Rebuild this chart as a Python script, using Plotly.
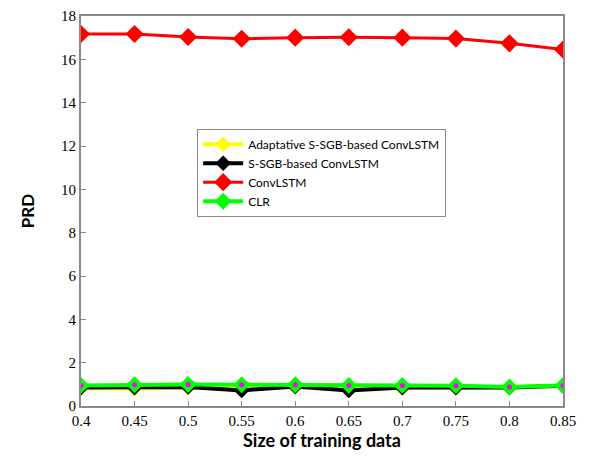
import plotly.graph_objects as go

sizes = [0.4, 0.45, 0.5, 0.55, 0.6, 0.65, 0.7, 0.75, 0.8, 0.85]
adaptive = [0.82, 0.80, 0.85, 0.78, 0.88, 0.78, 0.83, 0.83, 0.85, 0.93]
ssgb = [0.85, 0.85, 0.88, 0.72, 0.90, 0.72, 0.85, 0.85, 0.85, 0.93]
convlstm = [17.17, 17.17, 17.03, 16.95, 17.0, 17.02, 17.0, 16.96, 16.74, 16.45]
clr = [0.95, 0.98, 0.99, 0.98, 0.98, 0.95, 0.95, 0.94, 0.88, 0.95]

x_ticks = [0.4, 0.45, 0.5, 0.55, 0.6, 0.65, 0.7, 0.75, 0.8, 0.85]
x_tick_text = ["0.4", "0.45", "0.5", "0.55", "0.6", "0.65", "0.7", "0.75", "0.8", "0.85"]
y_ticks = [0, 2, 4, 6, 8, 10, 12, 14, 16, 18]

FONT = "Lato"
SERIF = "Liberation Serif"

fig = go.Figure()

def add(name, y, color, dot_color, size=12, lw=4):
    fig.add_trace(go.Scatter(x=sizes, y=y, name=name, mode="lines+markers",
                             legendgroup=name,
                             line=dict(color=color, width=lw),
                             marker=dict(symbol="diamond", size=size, color=color, line=dict(width=0))))
    if dot_color:
        fig.add_trace(go.Scatter(x=sizes, y=y, name=name, mode="markers",
                                 legendgroup=name, showlegend=False, hoverinfo="skip",
                                 marker=dict(symbol="circle", size=5, color=dot_color, line=dict(width=0))))

add("Adaptative S-SGB-based ConvLSTM", adaptive, "#ffff00", "#0000ff")
add("S-SGB-based ConvLSTM", ssgb, "#000000", None)
add("ConvLSTM", convlstm, "#ff0000", None, size=14, lw=3)
add("CLR", clr, "#00ff00", "#ff00ff", size=13, lw=4)

axis_common = dict(showline=True, linecolor="#8a8a8a", linewidth=2, mirror=True,
                   ticks="inside", ticklen=5, tickcolor="#8a8a8a", showgrid=False,
                   zeroline=False, automargin=False,
                   tickfont=dict(family=SERIF, size=15, color="#000"))

fig.update_xaxes(range=[0.4, 0.85], tickvals=x_ticks, ticktext=x_tick_text,
                 title=dict(text="<b>Size of training data</b>", font=dict(family=FONT, size=18, color="#000"), standoff=21),
                 **axis_common)
fig.update_yaxes(range=[0, 18], tickvals=y_ticks,
                 title=dict(text="<b>PRD</b>", font=dict(family=FONT, size=17, color="#000"), standoff=22),
                 **axis_common)

fig.update_layout(
    width=584, height=443,
    margin=dict(l=73, r=29, t=8, b=45),
    paper_bgcolor="white", plot_bgcolor="white",
    showlegend=True,
    legend=dict(x=0.241, y=0.711, xanchor="left", yanchor="top",
                bgcolor="white", bordercolor="#8a8a8a", borderwidth=1,
                font=dict(family=FONT, size=12, color="#000"),
                tracegroupgap=0, itemwidth=40),
)

fig.write_html("out.html", post_script="document.body.style.margin='0';document.body.style.padding='8px 8px 0 8px';")
